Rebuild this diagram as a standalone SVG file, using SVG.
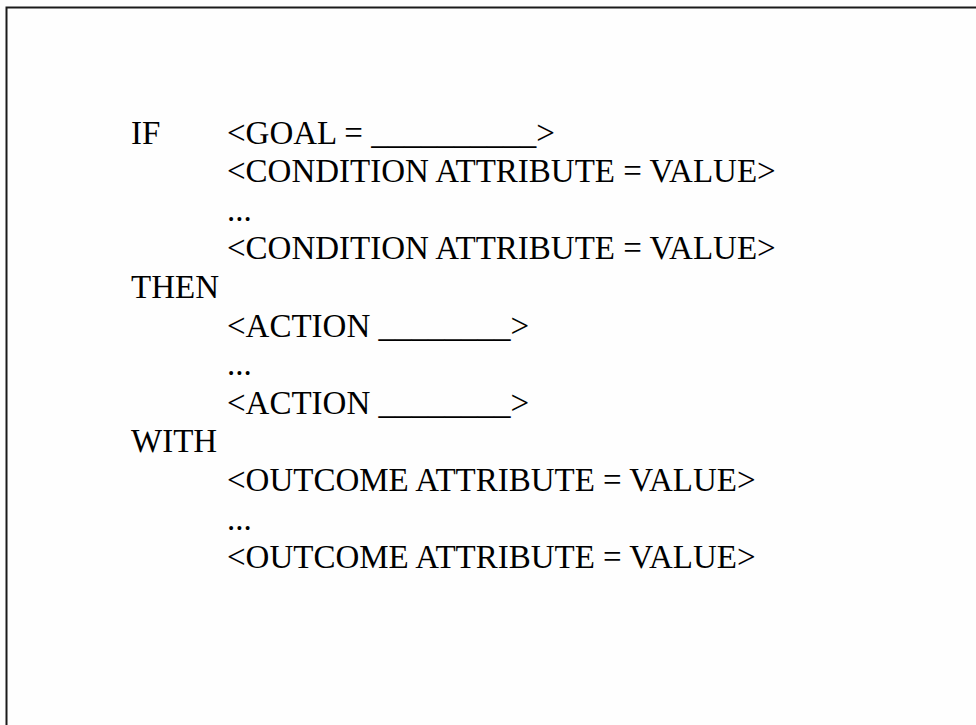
<svg xmlns="http://www.w3.org/2000/svg" width="976" height="725" viewBox="0 0 976 725">
  <style>
    .t { font-family: "Liberation Serif", "Times New Roman", serif; font-size: 33px; fill: #000; }
    .frame { stroke: #1a1a1a; stroke-width: 2; fill: none; }
  </style>
  <rect width="976" height="725" fill="#fefefe"/>
  <!-- open frame: top and left edges only -->
  <path class="frame" d="M6.5,725 L6.5,7.5 L976,7.5"/>

  <g id="rule">
    <g id="if-part">
      <text class="t" x="131" y="144">IF</text>
      <text class="t" x="227" y="144">&lt;GOAL = __________&gt;</text>
      <text class="t" x="227" y="182">&lt;CONDITION ATTRIBUTE = VALUE&gt;</text>
      <text class="t" x="227" y="221">...</text>
      <text class="t" x="227" y="259">&lt;CONDITION ATTRIBUTE = VALUE&gt;</text>
    </g>
    <g id="then-part">
      <text class="t" x="131" y="298">THEN</text>
      <text class="t" x="227" y="337">&lt;ACTION ________&gt;</text>
      <text class="t" x="227" y="375">...</text>
      <text class="t" x="227" y="414">&lt;ACTION ________&gt;</text>
    </g>
    <g id="with-part">
      <text class="t" x="131" y="452">WITH</text>
      <text class="t" x="227" y="491">&lt;OUTCOME ATTRIBUTE = VALUE&gt;</text>
      <text class="t" x="227" y="530">...</text>
      <text class="t" x="227" y="568">&lt;OUTCOME ATTRIBUTE = VALUE&gt;</text>
    </g>
  </g>
</svg>
